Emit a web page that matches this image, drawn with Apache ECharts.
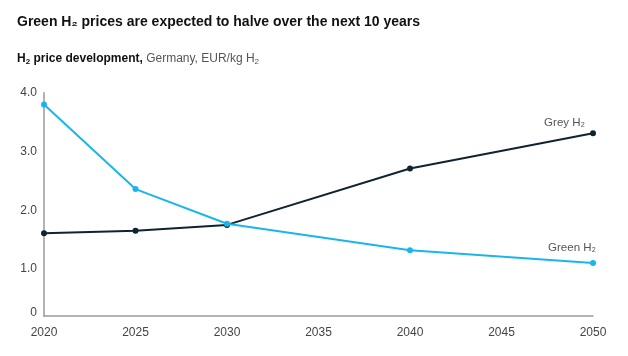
<!DOCTYPE html>
<html>
<head>
<meta charset="utf-8">
<script src="https://cdn.jsdelivr.net/npm/echarts@6/dist/echarts.min.js"></script>
<style>
html,body{margin:0;padding:0;background:#fff;}
#chart{width:628px;height:356px;}
</style>
</head>
<body>
<div id="chart"></div>
<script>
var years = [2020, 2025, 2030, 2040, 2050];
var greenH2 = [3.8, 2.36, 1.77, 1.32, 1.1];
var greyH2 = [1.61, 1.65, 1.75, 2.71, 3.31];
var yTickValues = [0.25, 1, 2, 3, 4];
var seriesNames = ['Green H\u2082', 'Grey H\u2082'];

var FONT = 'Liberation Sans';
var GREEN = '#1BB5EE';
var GREY = '#0E2431';

function buildData(vals, lastLabel) {
  return years.map(function (y, i) {
    var item = { value: [y, vals[i]] };
    if (i === years.length - 1) item.label = lastLabel;
    return item;
  });
}

var chart = echarts.init(document.getElementById('chart'), null, { renderer: 'canvas' });
chart.setOption({
  animation: false,
  backgroundColor: '#fff',
  textStyle: { fontFamily: FONT },
  title: [
    {
      text: 'Green H\u2082 prices are expected to halve over the next 10 years',
      left: 12, top: 10,
      textStyle: { fontFamily: FONT, fontSize: 14, fontWeight: 'bold', color: '#111' }
    },
    {
      text: '{b|H}{s|2}{b| price development,}{n| Germany, EUR/kg H}{sn|2}',
      left: 12, top: 47,
      textStyle: {
        fontWeight: 'normal',
        rich: {
          b: { fontFamily: FONT, fontSize: 12, fontWeight: 'bold', color: '#111' },
          s: { fontFamily: FONT, fontSize: 8, fontWeight: 'bold', color: '#111', verticalAlign: 'bottom', padding: [6, 0, 0, 0] },
          n: { fontFamily: FONT, fontSize: 12, fontWeight: 'normal', color: '#555' },
          sn: { fontFamily: FONT, fontSize: 8, fontWeight: 'normal', color: '#555', verticalAlign: 'bottom', padding: [6, 0, 0, 0] }
        }
      }
    }
  ],
  grid: { left: 44, right: 35, top: 92.7, bottom: 40, containLabel: false },
  xAxis: {
    type: 'value', min: 2020, max: 2050, interval: 5,
    axisLine: { show: true, lineStyle: { color: '#9E9893', width: 1.5 } },
    axisTick: { show: false },
    splitLine: { show: false },
    axisLabel: { color: '#444', fontSize: 12, margin: 11, fontFamily: FONT, formatter: function (v) { return String(v); } }
  },
  yAxis: {
    type: 'value', min: 0.2, max: 4,
    axisLine: { show: true, lineStyle: { color: '#9E9893', width: 1.5 } },
    axisTick: { show: false },
    splitLine: { show: false },
    axisLabel: {
      customValues: yTickValues,
      color: '#444', fontSize: 12, margin: 7, fontFamily: FONT,
      formatter: function (v) { return v < 0.5 ? '0' : v.toFixed(1); }
    }
  },
  series: [
    {
      name: seriesNames[0], type: 'line',
      data: buildData(greenH2, { show: true, position: 'top', align: 'right', offset: [3, -1], formatter: seriesNames[0], color: '#555', fontSize: 11.5, fontFamily: FONT }),
      symbol: 'circle', symbolSize: 6,
      lineStyle: { color: GREEN, width: 2 },
      itemStyle: { color: GREEN },
      z: 3
    },
    {
      name: seriesNames[1], type: 'line',
      data: buildData(greyH2, { show: true, position: 'top', align: 'right', offset: [-8, 4], formatter: seriesNames[1], color: '#555', fontSize: 11.5, fontFamily: FONT }),
      symbol: 'circle', symbolSize: 6,
      lineStyle: { color: GREY, width: 2 },
      itemStyle: { color: GREY },
      z: 2
    }
  ]
});
</script>
</body>
</html>
